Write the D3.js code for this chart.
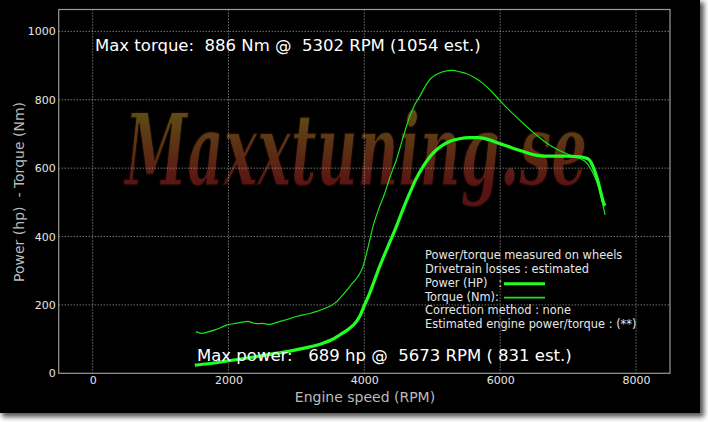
<!DOCTYPE html>
<html><head><meta charset="utf-8">
<script src="https://cdn.jsdelivr.net/npm/d3@7"></script>
<style>
html,body{margin:0;padding:0;background:#fff;}
#panel{position:absolute;left:0;top:0;width:700px;height:413px;background:#000;box-shadow:3px 3px 5px 1px #555;}
svg{position:absolute;left:0;top:0;}
text{white-space:pre;}
</style></head><body>
<div id="panel"></div>
<svg id="chart" width="708" height="422"></svg>
<script>
const xTicks = [0, 2000, 4000, 6000, 8000];
const yTicks = [0, 200, 400, 600, 800, 1000];
const torqueRpm = [1519,1603,1700,1799,1900,1970,2070,2166,2288,2350,2411,2500,2607,2700,2803,2900,3000,3100,3196,3300,3391,3500,3588,3660,3735,3820,3906,3980,4050,4127,4210,4299,4380,4471,4570,4666,4740,4813,4890,4960,5060,5156,5302,5400,5500,5620,5744,5870,5990,6110,6235,6360,6479,6600,6725,6850,6971,7100,7216,7270,7313,7360,7412,7450,7485,7515,7544];
const torqueNm = [122,117,121,127,135,141,145,148,152,148,145,146,143,148,154,160,166,171,175,181,188,197,209,224,241,262,283,312,365,429,480,526,575,624,690,750,785,809,837,858,874,882,886,882,877,865,848,825,799,774,750,727,706,686,668,654,643,633,624,616,604,588,565,543,516,490,463];
const powerRpm = [1504,1700,1921,2150,2411,2650,2901,3150,3391,3520,3637,3760,3882,3940,4004,4078,4151,4225,4350,4471,4570,4666,4760,4862,4960,5059,5160,5255,5400,5550,5673,5744,5870,5990,6110,6235,6360,6479,6600,6725,6850,6971,7100,7216,7270,7313,7350,7387,7425,7460,7490,7519,7545];
const powerHp = [24,28,34,41,49,57,65,75,88,98,112,128,151,170,200,234,273,312,372,429,480,526,568,604,632,653,668,678,686,689,689,688,681,672,664,655,647,640,636,635,635,635,634,632,629,624,612,594,572,546,522,500,490];
const legendLines = ["Power/torque measured on wheels","Drivetrain losses : estimated","Power (HP)   : ","Torque (Nm): ","Correction method : none","Estimated engine power/torque : (**)"];
const torqueText = "Max torque:  886 Nm @  5302 RPM (1054 est.)";
const powerText = "Max power:   689 hp @  5673 RPM ( 831 est.)";

const svg = d3.select("#chart");
const L = 58.7, R = 670, T = 9.5, B = 373.3;
const x = d3.scaleLinear().domain([-500, 8500]).range([L, R]);
const y = d3.scaleLinear().domain([0, 1064]).range([B, T]);

// watermark
const defs = svg.append("defs");
const g = defs.append("linearGradient").attr("id","wm")
  .attr("gradientUnits","userSpaceOnUse").attr("x1",0).attr("y1",112).attr("x2",0).attr("y2",186);
g.append("stop").attr("offset","0%").attr("stop-color","#5e4c16");
g.append("stop").attr("offset","100%").attr("stop-color","#5a1212");
svg.append("text").attr("x",125).attr("y",185)
  .attr("font-family","DejaVu Serif Condensed, DejaVu Serif").attr("font-style","italic").attr("font-weight","bold")
  .attr("font-size",99)
  .attr("textLength",462).attr("lengthAdjust","spacingAndGlyphs")
  .attr("fill","url(#wm)").attr("stroke","#150804").attr("stroke-width",1.5)
  .text("Maxxtuning.se");

// grid
const grid = svg.append("g").attr("stroke","#aaa").attr("stroke-width",1).attr("stroke-dasharray","1,2");
xTicks.forEach(t => grid.append("line").attr("x1",x(t)).attr("x2",x(t)).attr("y1",T).attr("y2",B));
yTicks.filter(t=>t>0).forEach(t => grid.append("line").attr("x1",L).attr("x2",R).attr("y1",y(t)).attr("y2",y(t)));

// frame
svg.append("rect").attr("x",L).attr("y",T).attr("width",R-L).attr("height",B-T)
  .attr("fill","none").attr("stroke","#999").attr("stroke-width",1.2);

// axes labels
const xa = svg.append("g").attr("transform",`translate(0,${B})`)
  .call(d3.axisBottom(x).tickValues(xTicks).tickSize(0).tickPadding(3).tickFormat(d3.format("d")));
xa.select(".domain").remove();
xa.selectAll("text").attr("fill","#e6e6e6").attr("font-family","DejaVu Sans").attr("font-size",11);
const ya = svg.append("g").attr("transform",`translate(${L},0)`)
  .call(d3.axisLeft(y).tickValues(yTicks).tickSize(0).tickPadding(3).tickFormat(d3.format("d")));
ya.select(".domain").remove();
ya.selectAll("text").attr("fill","#e6e6e6").attr("font-family","DejaVu Sans").attr("font-size",11);

svg.append("text").attr("x",365).attr("y",402).attr("text-anchor","middle")
  .attr("font-family","DejaVu Sans").attr("font-size",14).attr("fill","#bbb").text("Engine speed (RPM)");
svg.append("text").attr("transform","translate(24,192) rotate(-90)").attr("text-anchor","middle")
  .attr("font-family","DejaVu Sans").attr("font-size",14).attr("fill","#bbb").text("Power (hp)  - Torque (Nm)");

// curves
const line = d3.line().x(d=>x(d[0])).y(d=>y(d[1])).curve(d3.curveMonotoneX);
svg.append("path").datum(d3.zip(torqueRpm, torqueNm)).attr("d",line)
  .attr("fill","none").attr("stroke","#16e816").attr("stroke-width",1.2);
svg.append("path").datum(d3.zip(powerRpm, powerHp)).attr("d",line)
  .attr("fill","none").attr("stroke","#22ff22").attr("stroke-width",3.2);

// annotations
svg.append("text").attr("x",95).attr("y",51).attr("font-family","DejaVu Sans").attr("font-size",16.5)
  .attr("fill","#fff").text(torqueText);
svg.append("text").attr("x",197).attr("y",361).attr("font-family","DejaVu Sans").attr("font-size",16.5)
  .attr("fill","#fff").text(powerText);

// legend
const lg = svg.append("g").attr("font-family","DejaVu Sans").attr("font-size",11.4).attr("fill","#e6e6e6");
legendLines.forEach((s,i) => lg.append("text").attr("x",425).attr("y",259 + i*13.85).text(s));
svg.append("line").attr("x1",504).attr("x2",545).attr("y1",283.7).attr("y2",283.7).attr("stroke","#22ff22").attr("stroke-width",3);
svg.append("line").attr("x1",504).attr("x2",545).attr("y1",297.6).attr("y2",297.6).attr("stroke","#16e816").attr("stroke-width",1.8);
</script></body></html>
